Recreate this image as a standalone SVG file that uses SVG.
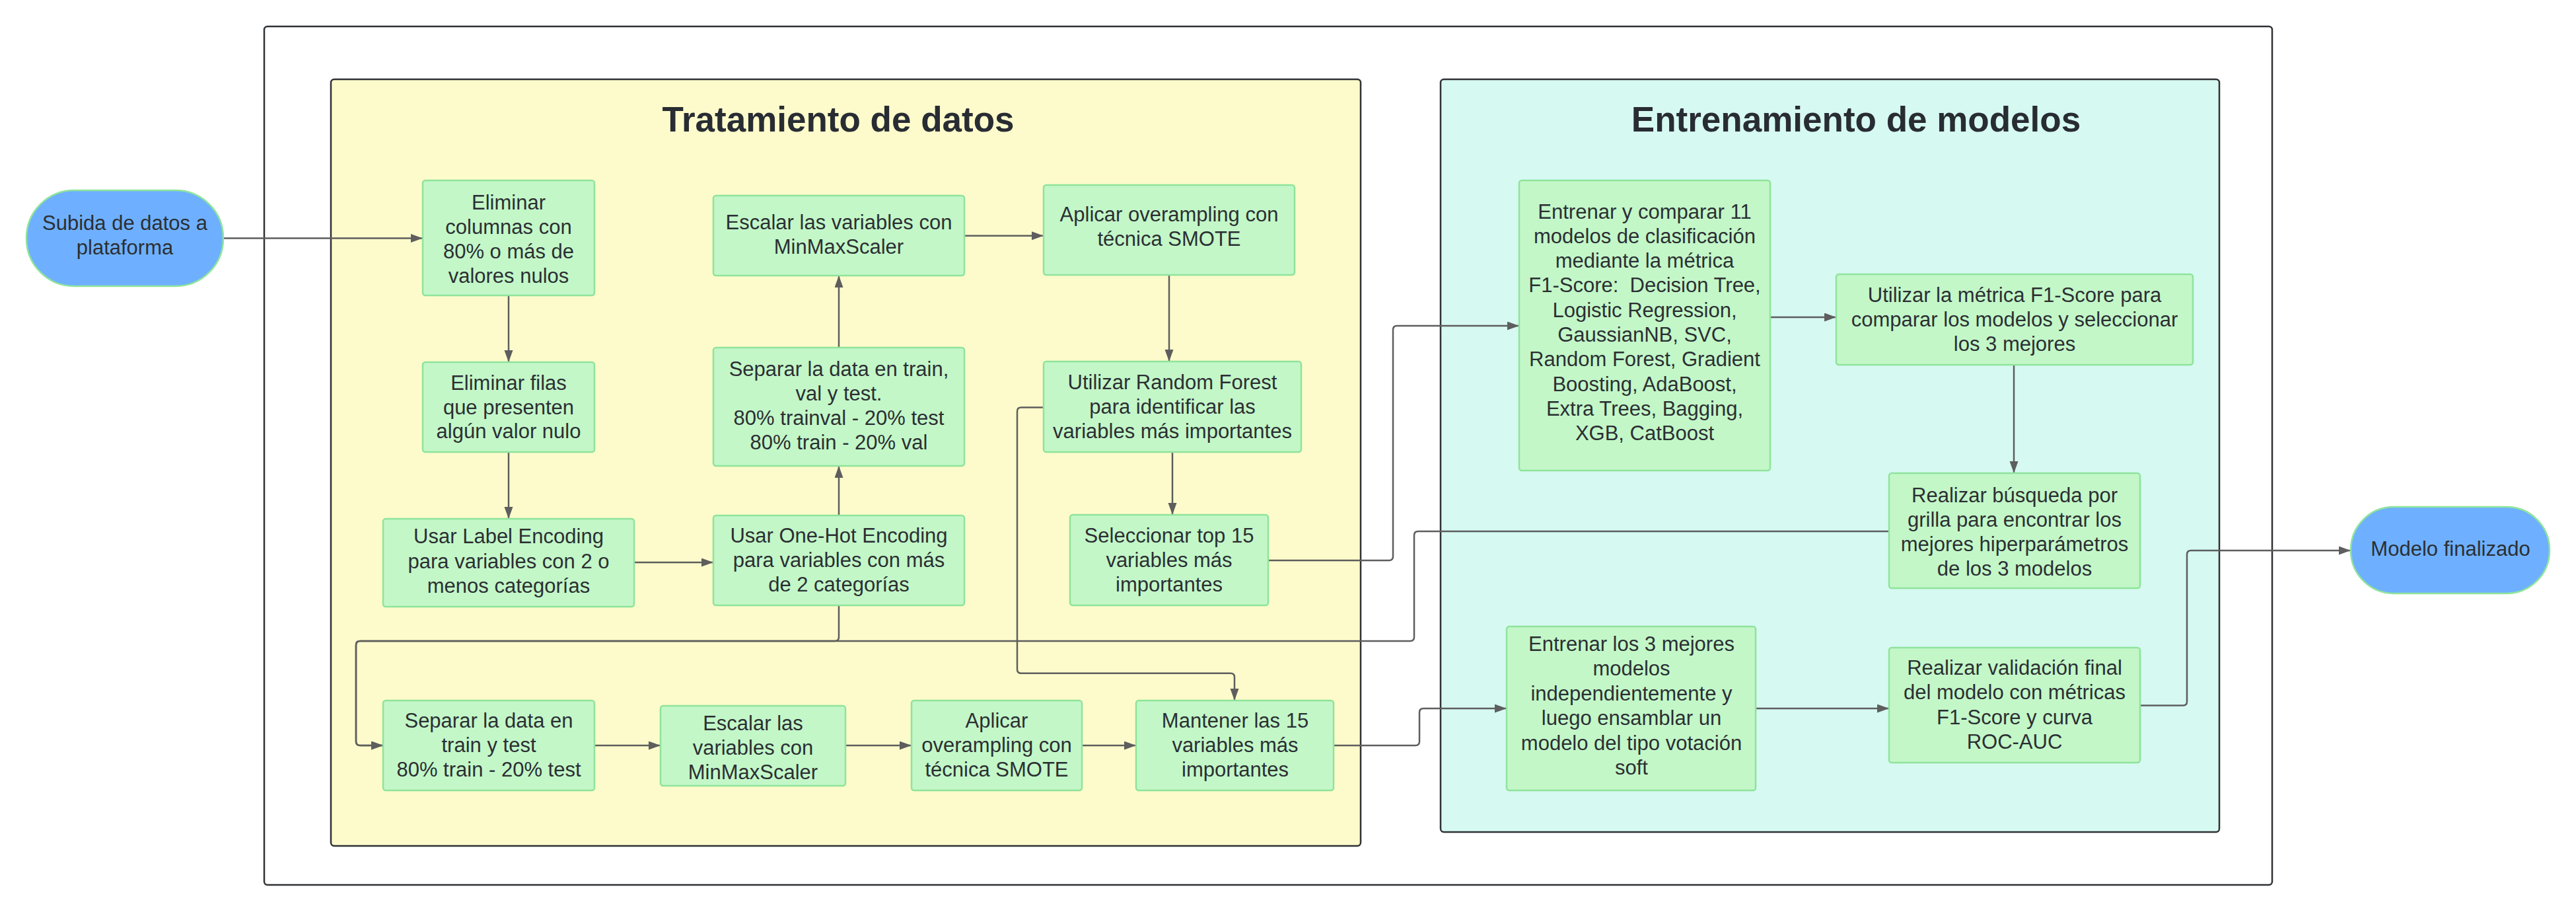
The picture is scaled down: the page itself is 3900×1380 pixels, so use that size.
<svg xmlns="http://www.w3.org/2000/svg" width="3900" height="1380" viewBox="0 0 3900 1380">
<style>
.frame{fill:#ffffff;stroke:#2f3235;stroke-width:2.5}
.grp{stroke:#2f3235;stroke-width:2.5}
.node{fill:#c3f7c8;stroke:#8fe49b;stroke-width:2.5}
.term{fill:#6eb0ff;stroke:#8fe49b;stroke-width:2.5}
.t{font-family:"Liberation Sans",Arial,sans-serif;font-size:31px;fill:#2b2f33;text-anchor:middle}
.title{font-family:"Liberation Sans",Arial,sans-serif;font-size:53px;font-weight:bold;fill:#282c33;text-anchor:middle}
.c{fill:none;stroke:#5e5e5e;stroke-width:2.5}
.a{marker-end:url(#arr)}
</style>
<defs>
<marker id="arr" markerUnits="userSpaceOnUse" markerWidth="18" markerHeight="14" refX="18" refY="6.5" orient="auto">
<path d="M0,0 L18,6.5 L0,13 z" fill="#5e5e5e"/>
</marker>
</defs>
<rect width="3900" height="1380" fill="#ffffff"/>
<g id="frame"><rect class="frame" x="400" y="40" width="3040" height="1299" rx="5"/></g>
<g id="grp-tratamiento">
<rect class="grp" x="501" y="120" width="1559" height="1160" rx="5" fill="#fdfbcb"/>
<text class="title" x="1269" y="199">Tratamiento de datos</text>
</g>
<g id="grp-entrenamiento">
<rect class="grp" x="2181" y="120" width="1179" height="1139" rx="5" fill="#d6f9f2"/>
<text class="title" x="2810" y="199">Entrenamiento de modelos</text>
</g>
<g id="connectors">
<path class="c a" d="M338,360.5 H640"/>
<path class="c a" d="M770,447 V548"/>
<path class="c a" d="M770,684 V785"/>
<path class="c a" d="M960,851 H1080"/>
<path class="c a" d="M1270,780 V705"/>
<path class="c a" d="M1270,526 V417"/>
<path class="c a" d="M1460,356.7 H1580"/>
<path class="c a" d="M1770,416 V547"/>
<path class="c a" d="M1775,684 V779"/>
<path class="c a" d="M1580,616.5 H1546 Q1540,616.5 1540,622.5 V1012.7 Q1540,1018.7 1546,1018.7 H1863 Q1869,1018.7 1869,1024.7 V1060"/>
<path class="c a" d="M1920,848 H2103 Q2109,848 2109,842 V499 Q2109,493 2115,493 H2300"/>
<path class="c a" d="M1270,916 V964 Q1270,970 1264,970 H545 Q539,970 539,976 V1122 Q539,1128 545,1128 H580"/>
<path class="c a" d="M2860,804 H2147 Q2141,804 2141,810 V964 Q2141,970 2135,970 H545 Q539,970 539,976 V1122 Q539,1128 545,1128 H580"/>
<path class="c a" d="M900,1128 H1000"/>
<path class="c a" d="M1280,1128 H1380"/>
<path class="c a" d="M1638,1128 H1720"/>
<path class="c a" d="M2019,1128 H2143 Q2149,1128 2149,1122 V1078 Q2149,1072 2155,1072 H2281"/>
<path class="c a" d="M2680,480 H2780"/>
<path class="c a" d="M3049,552 V716"/>
<path class="c a" d="M2658,1072 H2860"/>
<path class="c a" d="M3240,1067.6 H3305 Q3311,1067.6 3311,1061.6 V839 Q3311,833 3317,833 H3559"/>
</g>
<g id="n-subida">
<rect class="term" x="40" y="288" width="298" height="145" rx="72" ry="72"/>
<text class="t"><tspan x="189" y="348">Subida de datos a</tspan><tspan x="189" y="385">plataforma</tspan></text>
</g>
<g id="n-elim-col">
<rect class="node" x="640" y="273" width="260" height="174" rx="4"/>
<text class="t"><tspan x="770" y="317">Eliminar</tspan><tspan x="770" y="354">columnas con</tspan><tspan x="770" y="391">80% o más de</tspan><tspan x="770" y="428">valores nulos</tspan></text>
</g>
<g id="n-elim-fil">
<rect class="node" x="640" y="548" width="260" height="136" rx="4"/>
<text class="t"><tspan x="770" y="590">Eliminar filas</tspan><tspan x="770" y="627">que presenten</tspan><tspan x="770" y="663">algún valor nulo</tspan></text>
</g>
<g id="n-label">
<rect class="node" x="580" y="785" width="380" height="133" rx="4"/>
<text class="t"><tspan x="770" y="822">Usar Label Encoding</tspan><tspan x="770" y="860">para variables con 2 o</tspan><tspan x="770" y="897">menos categorías</tspan></text>
</g>
<g id="n-onehot">
<rect class="node" x="1080" y="780" width="380" height="136" rx="4"/>
<text class="t"><tspan x="1270" y="821">Usar One-Hot Encoding</tspan><tspan x="1270" y="858">para variables con más</tspan><tspan x="1270" y="895">de 2 categorías</tspan></text>
</g>
<g id="n-sep-tvt">
<rect class="node" x="1080" y="526" width="380" height="179" rx="4"/>
<text class="t"><tspan x="1270" y="569">Separar la data en train,</tspan><tspan x="1270" y="606">val y test.</tspan><tspan x="1270" y="643">80% trainval - 20% test</tspan><tspan x="1270" y="680">80% train - 20% val</tspan></text>
</g>
<g id="n-esc-top">
<rect class="node" x="1080" y="296" width="380" height="121" rx="4"/>
<text class="t"><tspan x="1270" y="347">Escalar las variables con</tspan><tspan x="1270" y="384">MinMaxScaler</tspan></text>
</g>
<g id="n-smote-top">
<rect class="node" x="1580" y="280" width="380" height="136" rx="4"/>
<text class="t"><tspan x="1770" y="335">Aplicar overampling con</tspan><tspan x="1770" y="372">técnica SMOTE</tspan></text>
</g>
<g id="n-rf">
<rect class="node" x="1580" y="547" width="390" height="137" rx="4"/>
<text class="t"><tspan x="1775" y="589">Utilizar Random Forest</tspan><tspan x="1775" y="626">para identificar las</tspan><tspan x="1775" y="663">variables más importantes</tspan></text>
</g>
<g id="n-top15">
<rect class="node" x="1620" y="779" width="300" height="137" rx="4"/>
<text class="t"><tspan x="1770" y="821">Seleccionar top 15</tspan><tspan x="1770" y="858">variables más</tspan><tspan x="1770" y="895">importantes</tspan></text>
</g>
<g id="n-sep-tt">
<rect class="node" x="580" y="1060" width="320" height="136" rx="4"/>
<text class="t"><tspan x="740" y="1101">Separar la data en</tspan><tspan x="740" y="1138">train y test</tspan><tspan x="740" y="1175">80% train - 20% test</tspan></text>
</g>
<g id="n-esc-bot">
<rect class="node" x="1000" y="1068" width="280" height="121" rx="4"/>
<text class="t"><tspan x="1140" y="1105">Escalar las</tspan><tspan x="1140" y="1142">variables con</tspan><tspan x="1140" y="1179">MinMaxScaler</tspan></text>
</g>
<g id="n-smote-bot">
<rect class="node" x="1380" y="1060" width="258" height="136" rx="4"/>
<text class="t"><tspan x="1509" y="1101">Aplicar</tspan><tspan x="1509" y="1138">overampling con</tspan><tspan x="1509" y="1175">técnica SMOTE</tspan></text>
</g>
<g id="n-mantener">
<rect class="node" x="1720" y="1060" width="299" height="136" rx="4"/>
<text class="t"><tspan x="1870" y="1101">Mantener las 15</tspan><tspan x="1870" y="1138">variables más</tspan><tspan x="1870" y="1175">importantes</tspan></text>
</g>
<g id="n-entrenar11">
<rect class="node" x="2300" y="273" width="380" height="439" rx="4"/>
<text class="t" xml:space="preserve"><tspan x="2490" y="330.5">Entrenar y comparar 11</tspan><tspan x="2490" y="367.8">modelos de clasificación</tspan><tspan x="2490" y="405.1">mediante la métrica</tspan><tspan x="2490" y="442.4">F1-Score:  Decision Tree,</tspan><tspan x="2490" y="479.7">Logistic Regression,</tspan><tspan x="2490" y="517">GaussianNB, SVC,</tspan><tspan x="2490" y="554.3">Random Forest, Gradient</tspan><tspan x="2490" y="591.6">Boosting, AdaBoost,</tspan><tspan x="2490" y="628.9">Extra Trees, Bagging,</tspan><tspan x="2490" y="666.2">XGB, CatBoost</tspan></text>
</g>
<g id="n-metrica">
<rect class="node" x="2780" y="415" width="540" height="137" rx="4"/>
<text class="t"><tspan x="3050" y="457">Utilizar la métrica F1-Score para</tspan><tspan x="3050" y="494">comparar los modelos y seleccionar</tspan><tspan x="3050" y="531">los 3 mejores</tspan></text>
</g>
<g id="n-grilla">
<rect class="node" x="2860" y="716" width="380" height="174" rx="4"/>
<text class="t"><tspan x="3050" y="760">Realizar búsqueda por</tspan><tspan x="3050" y="797">grilla para encontrar los</tspan><tspan x="3050" y="834">mejores hiperparámetros</tspan><tspan x="3050" y="871">de los 3 modelos</tspan></text>
</g>
<g id="n-entrenar3">
<rect class="node" x="2281" y="948" width="377" height="248" rx="4"/>
<text class="t"><tspan x="2470" y="985">Entrenar los 3 mejores</tspan><tspan x="2470" y="1022">modelos</tspan><tspan x="2470" y="1060">independientemente y</tspan><tspan x="2470" y="1097">luego ensamblar un</tspan><tspan x="2470" y="1135">modelo del tipo votación</tspan><tspan x="2470" y="1172">soft</tspan></text>
</g>
<g id="n-validacion">
<rect class="node" x="2860" y="980" width="380" height="174" rx="4"/>
<text class="t"><tspan x="3050" y="1021">Realizar validación final</tspan><tspan x="3050" y="1058">del modelo con métricas</tspan><tspan x="3050" y="1096">F1-Score y curva</tspan><tspan x="3050" y="1133">ROC-AUC</tspan></text>
</g>
<g id="n-final">
<rect class="term" x="3559" y="767" width="301" height="131" rx="65" ry="65"/>
<text class="t"><tspan x="3710" y="841">Modelo finalizado</tspan></text>
</g>
</svg>
